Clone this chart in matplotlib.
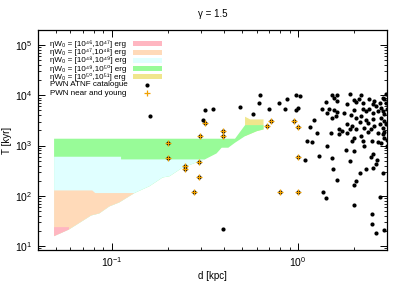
import numpy as np
import matplotlib
matplotlib.use("Agg")
import matplotlib.pyplot as plt
from matplotlib.patches import Rectangle
from matplotlib.ticker import LogLocator, NullFormatter

plt.rcParams['font.family'] = ['Liberation Sans', 'DejaVu Sans']
plt.rcParams['mathtext.fontset'] = 'custom'
plt.rcParams['mathtext.rm'] = 'Liberation Sans'
plt.rcParams['mathtext.it'] = 'Liberation Sans:italic'

# lower limit of allowed region (d [kpc], T [kyr])
low_d = [0.049, 0.0589, 0.0775, 0.0856, 0.0969, 0.1096, 0.1322, 0.1594, 0.1874, 0.2044,
         0.2403, 0.3158, 0.365, 0.3887, 0.4219, 0.4585, 0.519, 0.6007, 0.652]
low_T = [15.7, 21.3, 40.5, 44.4, 61.2, 73.5, 113, 155, 231, 245,
         366, 529, 696, 904, 904, 1137, 1538, 1936, 2093]

# upper limits of each energy band
top_d_51 = [0.519, 0.5527, 0.652]
top_T_51 = [3748, 3311, 3311]
top_d_50 = [0.049, 0.4585, 0.519, 0.652]
top_T_50 = [1366, 1366, 2547, 2547]
top_d_49 = [0.049, 0.1121, 0.1121, 0.3158]
top_T_49 = [598, 598, 529, 529]
top_d_48 = [0.049, 0.0785, 0.0815, 0.1322]
top_T_48 = [127.5, 127.5, 113, 113]
top_d_47 = [0.049, 0.0589]
top_T_47 = [23.7, 23.7]

labels = ["\u03b7W\u2080 = [10\u2074\u2076,10\u2074\u2077] erg",
          "\u03b7W\u2080 = [10\u2074\u2077,10\u2074\u2078] erg",
          "\u03b7W\u2080 = [10\u2074\u2078,10\u2074\u2079] erg",
          "\u03b7W\u2080 = [10\u2074\u2079,10\u2075\u2070] erg",
          "\u03b7W\u2080 = [10\u2075\u2070,10\u2075\u00b9] erg",
          "PWN ATNF catalogue",
          "PWN near and young"]
band_colors = ['#ffb6c1', '#ffdab9', '#e0ffff', '#98fb98', '#f0e68c']

# ATNF pulsar wind nebulae
atnf_d = [0.1594, 0.307, 0.317, 0.3475, 0.486, 0.576, 0.616, 0.626, 0.697, 0.786,
          0.872, 0.854, 0.975, 1.02, 0.975, 1.0, 0.3965,
          1.526, 1.624, 1.892, 2.17, 1.404, 1.556, 1.61, 1.839, 1.996, 2.04,
          2.124, 2.233, 2.406, 2.51, 2.615, 2.75, 2.78, 2.90, 1.348, 1.463,
          1.556, 1.624, 1.434, 1.763, 1.996, 2.216, 2.31, 2.406, 2.51, 2.67,
          2.84, 2.90, 1.214, 1.526, 1.59, 1.916, 2.04, 2.17, 2.31, 2.51,
          2.78, 2.90, 1.165, 1.839, 1.957, 2.15, 2.358, 2.56, 2.75, 2.84,
          1.657, 1.728, 1.90, 2.04, 2.244, 2.457, 2.67, 2.90, 1.266, 1.494,
          1.657, 1.839, 1.996, 2.17, 2.358, 2.84, 1.118, 1.19, 1.434, 1.957,
          2.216, 2.67, 2.78, 1.292, 1.526, 1.80, 1.996, 2.457, 2.51, 1.095,
          1.90, 2.637, 2.615, 1.538, 1.61, 2.143, 2.31, 2.51, 2.84, 2.057,
          1.996, 1.358, 1.416, 2.757, 1.996, 2.48, 2.49, 2.605, 2.90, 2.244,
          2.48, 2.96, 2.84, 2.56, 2.96, 2.99, 2.96, 2.99, 2.99, 2.90]
atnf_T = [3930, 3206, 5070, 5235, 5820, 4220, 6900, 9950, 5410, 7000,
          8550, 5310, 10280, 9640, 5070, 5560, 21.3,
          10100, 10100, 10420, 9950, 7330, 8950, 7660, 6580, 8020, 7330,
          8550, 6900, 8550, 6580, 6100, 6900, 5660, 8280, 5230, 5410,
          5000, 4620, 4500, 4500, 5000, 5410, 4840, 5410, 4500, 4840,
          4840, 4160, 3206, 3470, 3850, 3980, 3580, 3850, 3206, 3300,
          3580, 3060, 2330, 2720, 2435, 2925, 2844, 2435, 2630, 2265,
          2093, 1936, 2093, 2093, 2265, 2093, 1800, 1850, 1742, 1800,
          1664, 1742, 1430, 1538, 1850, 1664, 1225, 1191, 973, 1225,
          1225, 1170, 1100, 615, 553, 809, 773, 598, 665, 512,
          498, 505, 420, 334, 205, 278, 345, 350, 287, 195,
          163, 118, 91, 94, 65, 42.4, 26.8, 18, 21, 973,
          1225, 10420, 8800, 7660, 7000, 5230, 2630, 1314, 1000, 1400]

# near and young PWN
near_d = [0.2, 0.2, 0.248, 0.248, 0.297, 0.295, 0.295, 0.277, 0.318, 0.397,
          0.397, 0.68, 0.718, 0.949, 1.0, 1.0, 1.0, 0.795]
near_T = [1138, 566, 389, 345, 1538, 467, 239, 116, 2844, 1936,
          1538, 2433, 3062, 3020, 2345, 588, 116, 116]

fig = plt.figure(figsize=(4.05, 2.83), dpi=100)
ax = fig.add_axes([0.093, 0.1166, 0.8626, 0.7774])

low_d_arr = np.array(low_d)
low_T_arr = np.array(low_T)


def band(top_d, top_T, color):
    d0, d1 = top_d[0], top_d[-1]
    m = (low_d_arr >= d0 - 1e-9) & (low_d_arr <= d1 + 1e-9)
    xs = list(top_d) + list(low_d_arr[m][::-1])
    ys = list(top_T) + list(low_T_arr[m][::-1])
    ax.fill(xs, ys, color=color, lw=0, zorder=1)


band(top_d_51, top_T_51, band_colors[4])
band(top_d_50, top_T_50, band_colors[3])
band(top_d_49, top_T_49, band_colors[2])
band(top_d_48, top_T_48, band_colors[1])
band(top_d_47, top_T_47, band_colors[0])

ax.plot(atnf_d, atnf_T, 'o', color='black', ms=3.0, mew=0, zorder=3)
ax.plot(near_d, near_T, 'o', color='black', ms=3.0, mew=0, zorder=3)
ax.plot(near_d, near_T, '+', color='#f0a000', ms=4, mew=0.9, zorder=4)

ax.set_xscale('log')
ax.set_yscale('log')
ax.set_xlim(0.04, 3.0)
ax.set_ylim(8.3, 2.0e5)

ax.xaxis.set_minor_locator(LogLocator(base=10, subs=np.arange(2, 10)))
ax.yaxis.set_minor_locator(LogLocator(base=10, subs=np.arange(2, 10)))
ax.xaxis.set_minor_formatter(NullFormatter())
ax.yaxis.set_minor_formatter(NullFormatter())
ax.tick_params(which='both', direction='in', top=True, right=True, labelsize=7.5)
ax.tick_params(which='major', length=5, width=0.7, pad=4)
ax.tick_params(which='minor', length=2.5, width=0.6)
for s in ax.spines.values():
    s.set_linewidth(0.9)

ax.set_xlabel('d [kpc]', fontsize=7, labelpad=1)
ax.set_ylabel('T [kyr]', fontsize=7, labelpad=2)
ax.set_title('\u03b3 = 1.5', fontsize=7, pad=9)

# gnuplot-like key, text left and sample right
row_y = [0.937, 0.899, 0.861, 0.824, 0.787, 0.75, 0.712]
for i in range(7):
    ax.text(0.035, row_y[i], labels[i], transform=ax.transAxes, fontsize=5.8,
            va='center', ha='left', zorder=5)
for i in range(5):
    ax.add_patch(Rectangle((0.274, row_y[i] - 0.011), 0.083, 0.022,
                           transform=ax.transAxes, color=band_colors[i], lw=0, zorder=5))
ax.plot([0.312], [row_y[5]], 'o', color='black', ms=3.0, mew=0,
        transform=ax.transAxes, clip_on=False, zorder=5)
ax.plot([0.312], [row_y[6]], '+', color='#f0a000', ms=4, mew=0.9,
        transform=ax.transAxes, clip_on=False, zorder=5)

fig.savefig('out.png', dpi=100)
